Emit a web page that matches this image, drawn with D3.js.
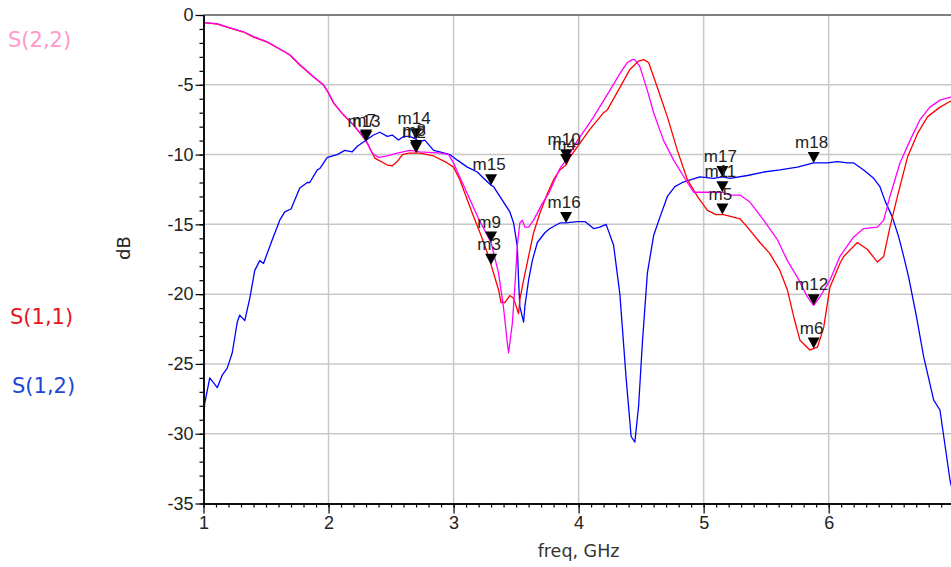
<!DOCTYPE html>
<html>
<head>
<meta charset="utf-8">
<script src="https://cdn.jsdelivr.net/npm/d3@7"></script>
<style>
  body { margin: 0; background: #fff; }
  svg { display: block; font-family: "Liberation Sans", Arial, sans-serif; }
</style>
</head>
<body>
<svg id="chart"></svg>
<script>
"use strict";

// S(1,1) - red
const s11Freq = [1.0, 1.11, 1.2, 1.32, 1.40, 1.51, 1.6, 1.69, 1.77, 1.88, 1.96, 2.0, 2.04, 2.12, 2.2, 2.3,
    2.37, 2.47, 2.51, 2.55, 2.59, 2.64, 2.7, 2.73, 2.84, 2.95, 3.0, 3.05, 3.1, 3.15, 3.22, 3.28, 3.3, 3.32,
    3.36, 3.38, 3.41, 3.45, 3.48, 3.52, 3.53, 3.56, 3.6, 3.64, 3.69, 3.75, 3.8, 3.85, 3.9, 3.93, 4.01, 4.09,
    4.2, 4.23, 4.33, 4.41, 4.48, 4.52, 4.56, 4.63, 4.71, 4.79, 4.87, 4.95, 5.03, 5.1, 5.16, 5.29, 5.35, 5.45,
    5.53, 5.61, 5.67, 5.72, 5.77, 5.85, 5.88, 5.91, 5.96, 6.01, 6.09, 6.12, 6.23, 6.31, 6.39, 6.44, 6.49,
    6.55, 6.63, 6.71, 6.79, 6.89, 6.97, 7.0];
const s11Db = [-0.55, -0.65, -0.9, -1.22, -1.58, -1.94, -2.4, -2.87, -3.58, -4.44, -5.02, -5.6, -6.31, -7.17, -7.89, -9.0,
    -10.25, -10.75, -10.8, -10.5, -10.0, -9.9, -9.9, -9.9, -10.1, -10.6, -10.9, -11.8, -13.0, -14.2, -15.8, -17.3, -17.9, -18.5,
    -19.7, -20.6, -20.6, -20.1, -20.3, -21.4, -20.4, -19.0, -17.3, -15.6, -14.2, -12.8, -11.8, -11.1, -10.75, -10.2, -9.2, -8.2,
    -7.0, -6.8, -5.2, -3.9, -3.3, -3.2, -3.4, -5.2, -7.3, -9.7, -11.8, -13.0, -14.0, -14.3, -14.3, -14.6, -15.2, -16.3,
    -17.1, -18.3, -19.7, -21.6, -23.3, -24.0, -23.9, -23.8, -22.4, -19.5, -17.8, -17.3, -16.3, -16.8, -17.7, -17.3, -15.2,
    -13.0, -10.2, -8.5, -7.3, -6.6, -6.2, -6.1];

// S(2,2) - magenta
const s22Freq = [1.0, 1.11, 1.2, 1.32, 1.40, 1.51, 1.6, 1.69, 1.77, 1.88, 1.96, 2.0, 2.04, 2.12, 2.2, 2.3,
    2.35, 2.4, 2.47, 2.55, 2.65, 2.7, 2.73, 2.9, 2.96, 3.0, 3.05, 3.12, 3.2, 3.3, 3.36, 3.4, 3.43, 3.44, 3.47,
    3.49, 3.51, 3.53, 3.55, 3.57, 3.6, 3.64, 3.71, 3.76, 3.81, 3.85, 3.9, 3.99, 4.06, 4.12, 4.25, 4.33, 4.39,
    4.43, 4.45, 4.49, 4.55, 4.6, 4.68, 4.76, 4.87, 4.92, 5.05, 5.16, 5.21, 5.29, 5.37, 5.48, 5.59, 5.67, 5.75,
    5.83, 5.88, 5.93, 6.01, 6.09, 6.2, 6.28, 6.39, 6.44, 6.49, 6.57, 6.65, 6.73, 6.81, 6.89, 6.97, 7.0];
const s22Db = [-0.55, -0.62, -0.88, -1.2, -1.55, -1.92, -2.38, -2.85, -3.55, -4.42, -5.0, -5.58, -6.28, -7.15, -7.87, -9.0,
    -9.9, -10.2, -10.1, -9.9, -9.7, -9.75, -9.8, -9.9, -10.0, -10.6, -11.6, -13.0, -14.6, -16.3, -18.5, -21.0, -23.5, -24.2, -22.1,
    -19.5, -16.5, -14.9, -14.7, -15.2, -15.2, -14.7, -13.5, -12.8, -11.8, -11.0, -10.4, -9.0, -8.1, -7.3, -5.4, -4.2, -3.4,
    -3.2, -3.2, -3.7, -5.4, -7.0, -9.0, -10.4, -12.0, -12.7, -12.7, -12.7, -12.9, -12.9, -13.4, -14.7, -16.1, -17.6, -18.8,
    -20.2, -20.8, -20.2, -19.0, -17.3, -15.9, -15.3, -15.2, -14.7, -13.0, -10.6, -9.0, -7.5, -6.6, -6.1, -5.9, -5.85];

// S(1,2) - blue
const s12Freq = [1.0, 1.01, 1.05, 1.11, 1.15, 1.19, 1.23, 1.27, 1.29, 1.33, 1.37, 1.41, 1.45, 1.48, 1.55, 1.61,
    1.65, 1.70, 1.77, 1.83, 1.85, 1.91, 1.93, 1.99, 2.07, 2.13, 2.19, 2.23, 2.28, 2.36, 2.41, 2.47, 2.51, 2.56,
    2.6, 2.65, 2.7, 2.72, 2.77, 2.84, 2.89, 2.97, 3.03, 3.11, 3.19, 3.24, 3.3, 3.32, 3.37, 3.45, 3.48, 3.51,
    3.52, 3.53, 3.56, 3.57, 3.60, 3.63, 3.67, 3.73, 3.77, 3.85, 3.9, 3.99, 4.05, 4.12, 4.17, 4.22, 4.28, 4.33,
    4.38, 4.42, 4.45, 4.48, 4.51, 4.55, 4.6, 4.65, 4.71, 4.77, 4.83, 4.9, 4.97, 5.08, 5.15, 5.21, 5.35, 5.48,
    5.61, 5.75, 5.88, 5.99, 6.07, 6.15, 6.2, 6.28, 6.36, 6.41, 6.45, 6.51, 6.56, 6.6, 6.64, 6.7, 6.76, 6.84,
    6.89, 6.97, 7.0];
const s12Db = [-29.0, -27.8, -26.0, -26.7, -25.8, -25.3, -24.2, -22.0, -21.5, -21.9, -20.3, -18.3, -17.6, -17.8, -16.1, -14.7,
    -14.1, -13.9, -12.4, -12.0, -12.0, -11.1, -11.0, -10.2, -10.0, -9.7, -9.8, -9.4, -9.1, -8.6, -8.4, -8.7, -8.6, -8.96,
    -8.7, -8.7, -8.9, -9.1, -8.96, -9.7, -9.8, -10.0, -10.4, -10.9, -11.25, -11.7, -12.2, -12.3, -13.0, -14.1, -14.9, -16.6,
    -19.0, -20.9, -22.0, -20.9, -19.0, -17.6, -16.3, -15.6, -15.3, -14.9, -14.9, -14.8, -14.8, -15.3, -15.2, -15.0, -16.5, -20.0,
    -26.0, -30.2, -30.6, -28.0, -23.5, -18.5, -15.8, -14.5, -13.0, -12.3, -12.0, -11.8, -11.6, -11.7, -11.6, -11.7, -11.5, -11.25,
    -11.1, -10.9, -10.6, -10.6, -10.5, -10.6, -10.6, -11.1, -11.7, -12.3, -13.3, -14.5, -15.9, -17.3, -18.8, -21.5, -24.5, -27.6,
    -28.3, -33.3, -34.5];

// markers
const markerNames = ["m7", "m13", "m14", "m8", "m2", "m15", "m9", "m3", "m10", "m4", "m16",
    "m17", "m11", "m5", "m18", "m12", "m6"];
const markerFreq = [2.3, 2.3, 2.7, 2.7, 2.7, 3.3, 3.3, 3.3, 3.9, 3.9, 3.9, 5.15, 5.15, 5.15, 5.88, 5.88, 5.88];
const markerDb = [-9.0, -9.1, -8.9, -9.75, -9.9, -12.2, -16.3, -17.9, -10.4, -10.75, -14.9,
    -11.6, -12.7, -14.3, -10.6, -20.8, -23.9];

const xTicks = [1, 2, 3, 4, 5, 6];
const yTicks = [0, -5, -10, -15, -20, -25, -30, -35];

const traces = [
    {name: "S(2,2)", freq: s22Freq, db: s22Db, color: "#ff00ff", label: "#ff99cc", lx: 8, ly: 47},
    {name: "S(1,1)", freq: s11Freq, db: s11Db, color: "#ff0000", label: "#e8141c", lx: 10, ly: 324},
    {name: "S(1,2)", freq: s12Freq, db: s12Db, color: "#0000ff", label: "#1c46d8", lx: 12, ly: 393},
];

const width = 951, height = 567;
const x = d3.scaleLinear().domain([1, 7]).range([203.5, 953.7]);
const y = d3.scaleLinear().domain([0, -35]).range([15, 503.5]);

const svg = d3.select("#chart").attr("width", width).attr("height", height);
svg.append("rect").attr("width", width).attr("height", height).attr("fill", "#fff");

// grid
const grid = svg.append("g").attr("stroke", "#c8c8c8").attr("stroke-width", 1.5);
grid.selectAll(".gx").data(xTicks.slice(1)).enter().append("line")
    .attr("x1", d => x(d)).attr("x2", d => x(d)).attr("y1", y(0)).attr("y2", y(-35));
grid.selectAll(".gy").data(yTicks.slice(1, -1)).enter().append("line")
    .attr("x1", x(1)).attr("x2", width).attr("y1", d => y(d)).attr("y2", d => y(d));

// top border
svg.append("line").attr("x1", x(1)).attr("x2", width).attr("y1", y(0)).attr("y2", y(0))
    .attr("stroke", "#555").attr("stroke-width", 1.5);

// traces
svg.append("defs").append("clipPath").attr("id", "plotClip")
    .append("rect").attr("x", x(1)).attr("y", y(0)).attr("width", x(7) - x(1)).attr("height", y(-35) - y(0));
const line = d3.line().x(d => x(d[0])).y(d => y(d[1]));
const traceG = svg.append("g").attr("clip-path", "url(#plotClip)");
// blue first, then red, magenta on top
[traces[2], traces[1], traces[0]].forEach(t => {
    traceG.append("path")
        .datum(t.freq.map((f, i) => [f, t.db[i]]))
        .attr("d", line)
        .attr("fill", "none")
        .attr("stroke", t.color)
        .attr("stroke-width", 1.3)
        .attr("stroke-linejoin", "round");
});

// axes
function styleAxis(g) {
    g.select(".domain").attr("stroke", "#000").attr("stroke-width", 1.5);
    g.selectAll(".tick line").attr("stroke", "#000").attr("stroke-width", 1.2);
    g.selectAll("text").attr("fill", "#222").style("font-size", "18px")
        .style("font-family", "'Liberation Sans', Arial, sans-serif");
}

svg.append("g").attr("transform", `translate(${x(1)},0)`)
    .call(d3.axisLeft(y).tickValues(d3.range(0, -36, -1)).tickSize(4).tickFormat("").tickSizeOuter(0))
    .call(styleAxis);
svg.append("g").attr("transform", `translate(${x(1)},0)`)
    .call(d3.axisLeft(y).tickValues(yTicks).tickSize(8).tickPadding(2).tickFormat(d3.format("d")).tickSizeOuter(0))
    .call(styleAxis)
    .call(g => g.selectAll("text").text(d => d === 0 ? "0" : "-" + Math.abs(d)));

svg.append("g").attr("transform", `translate(0,${y(-35)})`)
    .call(d3.axisBottom(x).tickValues(d3.range(10, 70, 1).map(v => v / 10)).tickSize(4).tickFormat("").tickSizeOuter(0))
    .call(styleAxis);
svg.append("g").attr("transform", `translate(0,${y(-35)})`)
    .call(d3.axisBottom(x).tickValues(xTicks).tickSize(10).tickPadding(3).tickFormat(d3.format("d")).tickSizeOuter(0))
    .call(styleAxis);

// axis titles
svg.append("text").attr("transform", "translate(130,248) rotate(-90)")
    .attr("text-anchor", "middle").attr("font-size", 18).attr("fill", "#222")
    .style("font-family", "'DejaVu Sans', sans-serif").text("dB");
svg.append("text").attr("x", (x(1) + x(7)) / 2).attr("y", 557)
    .attr("text-anchor", "middle").attr("font-size", 17.5).attr("fill", "#333")
    .style("font-family", "'DejaVu Sans', sans-serif").text("freq, GHz");

// legend labels
svg.selectAll(".legend").data(traces).enter().append("text")
    .attr("x", d => d.lx).attr("y", d => d.ly)
    .attr("font-size", 21).attr("fill", d => d.label)
    .style("font-family", "'DejaVu Sans', sans-serif").text(d => d.name);

// markers
const triW = 12, triH = 11;
const mg = svg.append("g");
markerNames.forEach((name, i) => {
    const px = x(markerFreq[i]), py = y(markerDb[i]);
    mg.append("path")
        .attr("d", `M${px},${py} L${px - triW / 2},${py - triH} L${px + triW / 2},${py - triH} Z`)
        .attr("fill", "#000");
    mg.append("text")
        .attr("x", px - 2).attr("y", py - triH - 4)
        .attr("text-anchor", "middle").attr("font-size", 17).attr("fill", "#222")
        .text(name);
});
</script>
</body>
</html>
